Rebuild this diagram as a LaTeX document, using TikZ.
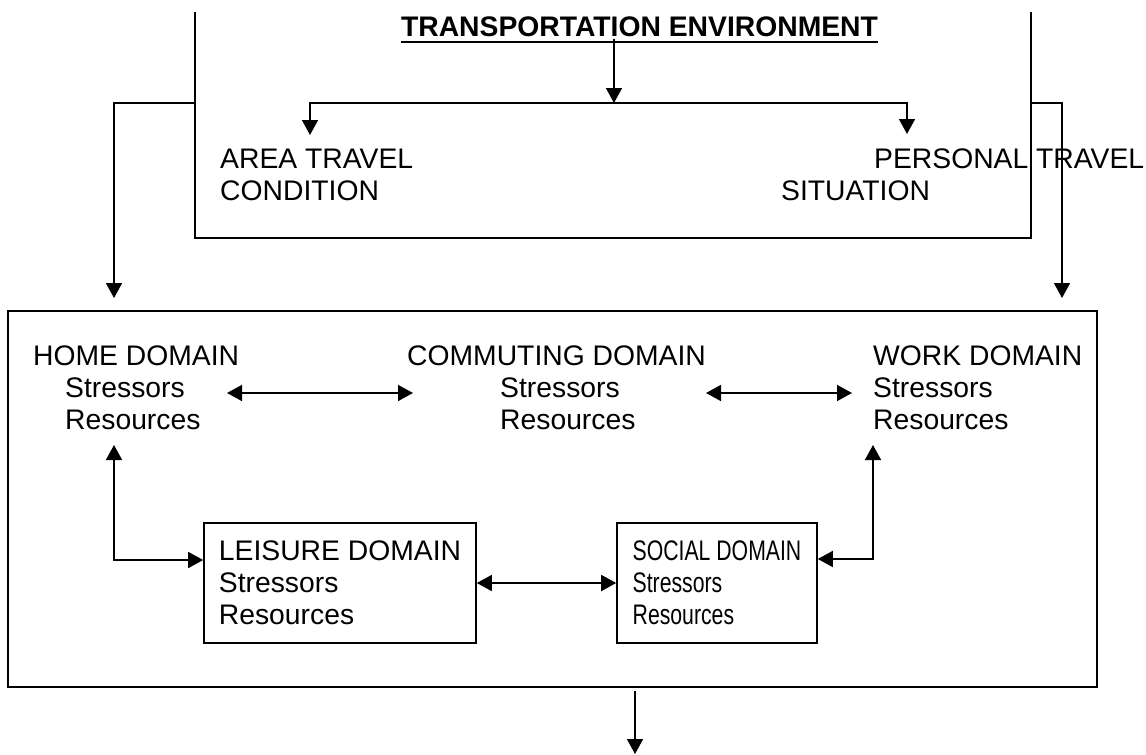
\documentclass[tikz,border=0pt]{standalone}
\usepackage{fontspec}
\usepackage{graphicx}
\setmainfont{Liberation Sans}
\usetikzlibrary{arrows.meta}
\begin{document}
\begin{tikzpicture}[x=1pt,y=-1pt,
  conn/.style={line width=1.6pt},
  arr/.style={conn,-{Triangle[length=15pt,width=16pt]}},
  darr/.style={conn,{Triangle[length=15pt,width=16pt]}-{Triangle[length=15pt,width=16pt]}},
  bodyfont/.style={font=\fontsize{28.3}{32}\selectfont},
  lbl/.style={bodyfont,inner sep=0pt,anchor=north west,align=left},
  dombox/.style={bodyfont,draw,line width=1.6pt,inner sep=0pt,align=left,minimum height=120pt}]
\useasboundingbox (0,0) rectangle (1146,755);

% transportation environment (open-topped frame)
\draw[conn] (195,12) -- (195,238) -- (1031,238) -- (1031,12);
\node[font=\fontsize{28.3}{32}\selectfont\bfseries,inner sep=0pt,anchor=base] (title) at (639.5,36) {TRANSPORTATION ENVIRONMENT};
\draw[line width=2.5pt] ([yshift=-6pt]title.base west) -- ([yshift=-6pt]title.base east);

\coordinate (split) at (614,103);
\coordinate (areatip) at (310,135);
\coordinate (perstip) at (907,134);
\draw[arr] ([yshift=-3pt]title.base -| split) -- (split);
\draw[arr] (split) -| (areatip);
\draw[arr] (split) -| (perstip);

\node[lbl] (area) at (220,149) {AREA TRAVEL\\CONDITION};
\node[lbl] (personal) at (781,149) {\hspace*{93pt}PERSONAL TRAVEL\\SITUATION};

% outgoing arrows to the domain frame
\coordinate (tbL) at (195,103);
\coordinate (tbR) at (1031,103);
\coordinate (inL) at (114,298);
\coordinate (inR) at (1062,298);
\draw[arr] (tbL) -| (inL);
\draw[arr] (tbR) -| (inR);

% domain frame
\node[draw,line width=1.6pt,inner sep=0pt,minimum width=1089pt,minimum height=376pt] (lifebox) at (552.5,499) {};

\node[lbl] (home) at (33,345.5) {HOME DOMAIN\\\hspace*{32pt}Stressors\\\hspace*{32pt}Resources};
\node[lbl] (commute) at (407,345.5) {COMMUTING DOMAIN\\\hspace*{93pt}Stressors\\\hspace*{93pt}Resources};
\node[lbl] (work) at (873,345.5) {WORK DOMAIN\\Stressors\\Resources};

\node[dombox,minimum width=272pt] (leisure) at (340,583) {LEISURE DOMAIN\\Stressors\\Resources};
\node[dombox,minimum width=200pt] (social) at (717,583) {\scalebox{0.75}[1]{SOCIAL DOMAIN}\\\scalebox{0.75}[1]{Stressors}\\\scalebox{0.75}[1]{Resources}};

\coordinate (hcA) at (227,393);
\coordinate (hcB) at (413,393);
\coordinate (cwA) at (706,393);
\coordinate (cwB) at (852,393);
\draw[darr] (hcA) -- (hcB);
\draw[darr] (cwA) -- (cwB);

\coordinate (homeup) at (114,445);
\coordinate (workup) at (873,445);
\draw[darr] (homeup) |- ([yshift=23pt]leisure.west);
\draw[darr] (workup) |- ([yshift=24pt]social.east);
\draw[darr] (leisure.east) -- (social.west);

\coordinate (outtip) at (635,754);
\draw[arr] ([yshift=-3pt]lifebox.south -| outtip) -- (outtip);
\end{tikzpicture}
\end{document}
